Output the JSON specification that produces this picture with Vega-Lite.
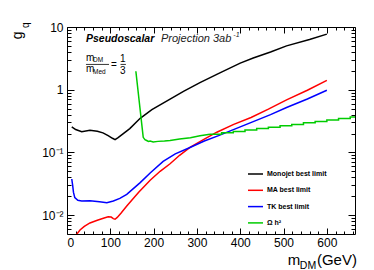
{
  "$schema": "https://vega.github.io/schema/vega-lite/v6.json",
  "width": 288,
  "height": 207,
  "autosize": {"type": "none"},
  "padding": {"left": 67, "top": 27, "right": 19, "bottom": 36},
  "background": "white",
  "datasets": {
    "curves": [
      {"series": "Monojet best limit", "m": 11, "g": 0.256},
      {"series": "Monojet best limit", "m": 20, "g": 0.232},
      {"series": "Monojet best limit", "m": 34, "g": 0.214},
      {"series": "Monojet best limit", "m": 53, "g": 0.226},
      {"series": "Monojet best limit", "m": 70, "g": 0.218},
      {"series": "Monojet best limit", "m": 83, "g": 0.205},
      {"series": "Monojet best limit", "m": 95, "g": 0.185},
      {"series": "Monojet best limit", "m": 105, "g": 0.168},
      {"series": "Monojet best limit", "m": 111, "g": 0.16},
      {"series": "Monojet best limit", "m": 118, "g": 0.172},
      {"series": "Monojet best limit", "m": 130, "g": 0.2},
      {"series": "Monojet best limit", "m": 145, "g": 0.24},
      {"series": "Monojet best limit", "m": 169, "g": 0.35},
      {"series": "Monojet best limit", "m": 196, "g": 0.48},
      {"series": "Monojet best limit", "m": 238, "g": 0.71},
      {"series": "Monojet best limit", "m": 270, "g": 0.95},
      {"series": "Monojet best limit", "m": 307, "g": 1.3},
      {"series": "Monojet best limit", "m": 353, "g": 1.86},
      {"series": "Monojet best limit", "m": 400, "g": 2.65},
      {"series": "Monojet best limit", "m": 430, "g": 3.2},
      {"series": "Monojet best limit", "m": 470, "g": 4.0},
      {"series": "Monojet best limit", "m": 507, "g": 5.0},
      {"series": "Monojet best limit", "m": 560, "g": 6.3},
      {"series": "Monojet best limit", "m": 600, "g": 7.7},

      {"series": "MA best limit", "m": 20, "g": 0.0047},
      {"series": "MA best limit", "m": 30, "g": 0.0058},
      {"series": "MA best limit", "m": 40, "g": 0.0066},
      {"series": "MA best limit", "m": 53, "g": 0.0075},
      {"series": "MA best limit", "m": 70, "g": 0.0083},
      {"series": "MA best limit", "m": 84, "g": 0.0089},
      {"series": "MA best limit", "m": 95, "g": 0.0094},
      {"series": "MA best limit", "m": 102, "g": 0.0093},
      {"series": "MA best limit", "m": 107, "g": 0.0088},
      {"series": "MA best limit", "m": 111, "g": 0.0086},
      {"series": "MA best limit", "m": 116, "g": 0.0092},
      {"series": "MA best limit", "m": 125, "g": 0.0108},
      {"series": "MA best limit", "m": 138, "g": 0.014},
      {"series": "MA best limit", "m": 165, "g": 0.023},
      {"series": "MA best limit", "m": 192, "g": 0.036},
      {"series": "MA best limit", "m": 215, "g": 0.05},
      {"series": "MA best limit", "m": 238, "g": 0.066},
      {"series": "MA best limit", "m": 260, "g": 0.09},
      {"series": "MA best limit", "m": 284, "g": 0.12},
      {"series": "MA best limit", "m": 315, "g": 0.16},
      {"series": "MA best limit", "m": 346, "g": 0.21},
      {"series": "MA best limit", "m": 385, "g": 0.28},
      {"series": "MA best limit", "m": 425, "g": 0.36},
      {"series": "MA best limit", "m": 465, "g": 0.49},
      {"series": "MA best limit", "m": 507, "g": 0.69},
      {"series": "MA best limit", "m": 555, "g": 0.98},
      {"series": "MA best limit", "m": 600, "g": 1.41},

      {"series": "TK best limit", "m": 11, "g": 0.0377},
      {"series": "TK best limit", "m": 13, "g": 0.03},
      {"series": "TK best limit", "m": 15, "g": 0.023},
      {"series": "TK best limit", "m": 18, "g": 0.019},
      {"series": "TK best limit", "m": 25, "g": 0.0172},
      {"series": "TK best limit", "m": 34, "g": 0.0168},
      {"series": "TK best limit", "m": 53, "g": 0.017},
      {"series": "TK best limit", "m": 75, "g": 0.0163},
      {"series": "TK best limit", "m": 92, "g": 0.0158},
      {"series": "TK best limit", "m": 107, "g": 0.0168},
      {"series": "TK best limit", "m": 122, "g": 0.0185},
      {"series": "TK best limit", "m": 138, "g": 0.0215},
      {"series": "TK best limit", "m": 169, "g": 0.033},
      {"series": "TK best limit", "m": 192, "g": 0.047},
      {"series": "TK best limit", "m": 222, "g": 0.072},
      {"series": "TK best limit", "m": 250, "g": 0.095},
      {"series": "TK best limit", "m": 284, "g": 0.12},
      {"series": "TK best limit", "m": 317, "g": 0.152},
      {"series": "TK best limit", "m": 350, "g": 0.185},
      {"series": "TK best limit", "m": 390, "g": 0.24},
      {"series": "TK best limit", "m": 430, "g": 0.31},
      {"series": "TK best limit", "m": 470, "g": 0.4},
      {"series": "TK best limit", "m": 507, "g": 0.52},
      {"series": "TK best limit", "m": 555, "g": 0.71},
      {"series": "TK best limit", "m": 600, "g": 0.98},

      {"series": "Ω h²", "m": 159, "g": 1.97},
      {"series": "Ω h²", "m": 176, "g": 0.174},
      {"series": "Ω h²", "m": 180, "g": 0.16},
      {"series": "Ω h²", "m": 184, "g": 0.155},
      {"series": "Ω h²", "m": 188, "g": 0.15},
      {"series": "Ω h²", "m": 192, "g": 0.152},
      {"series": "Ω h²", "m": 199, "g": 0.147},
      {"series": "Ω h²", "m": 210, "g": 0.15},
      {"series": "Ω h²", "m": 225, "g": 0.152},
      {"series": "Ω h²", "m": 238, "g": 0.155},
      {"series": "Ω h²", "m": 260, "g": 0.163},
      {"series": "Ω h²", "m": 285, "g": 0.172},
      {"series": "Ω h²", "m": 307, "g": 0.185},
      {"series": "Ω h²", "m": 330, "g": 0.195}
    ],
    "omegaSteps": [
      {"m": 330, "g": 0.195},
      {"m": 357, "g": 0.205},
      {"m": 384, "g": 0.215},
      {"m": 411, "g": 0.227},
      {"m": 438, "g": 0.24},
      {"m": 465, "g": 0.252},
      {"m": 492, "g": 0.266},
      {"m": 519, "g": 0.28},
      {"m": 546, "g": 0.296},
      {"m": 573, "g": 0.31},
      {"m": 600, "g": 0.33},
      {"m": 627, "g": 0.348},
      {"m": 654, "g": 0.366},
      {"m": 665, "g": 0.37}
    ]
  },
  "layer": [
    {
      "data": {"name": "curves"},
      "mark": {"type": "line", "strokeWidth": 1.5, "clip": true},
      "encoding": {
        "x": {"field": "m", "type": "quantitative",
          "scale": {"domain": [0, 665], "nice": false, "zero": false},
          "axis": {"orient": "bottom", "values": [0, 100, 200, 300, 400, 500, 600], "ticks": false, "domain": false, "grid": false, "title": null, "labelFontSize": 12, "labelPadding": 3, "labelColor": "black", "labelFont": "Liberation Sans"}},
        "y": {"field": "g", "type": "quantitative",
          "scale": {"type": "log", "domain": [0.005, 10], "nice": false},
          "axis": {"orient": "left", "values": [0.01, 0.1, 1, 10], "ticks": false, "domain": false, "grid": false, "title": null, "labelFontSize": 12, "labelPadding": 4, "labelColor": "black", "labelFont": "Liberation Sans",
            "labelExpr": "datum.value >= 5 ? '10' : datum.value >= 0.5 ? '1' : datum.value >= 0.05 ? '10⁻¹' : '10⁻²'"}},
        "color": {"field": "series", "type": "nominal",
          "scale": {"domain": ["Monojet best limit", "MA best limit", "TK best limit", "Ω h²"], "range": ["#000000", "#ff0000", "#0000ff", "#00cc00"]},
          "legend": {"orient": "none", "legendX": 180, "legendY": 138.5, "title": null, "symbolType": "stroke", "symbolSize": 225, "symbolStrokeWidth": 1.5, "labelFontSize": 7, "labelFontWeight": "bold", "labelFont": "Liberation Sans", "labelColor": "black", "labelOffset": 3, "rowPadding": 4.3}}
      }
    },
    {
      "data": {"name": "omegaSteps"},
      "mark": {"type": "line", "strokeWidth": 1.5, "interpolate": "step-after", "color": "#00cc00", "clip": true},
      "encoding": {
        "x": {"field": "m", "type": "quantitative", "scale": {"domain": [0, 665], "nice": false, "zero": false},
          "axis": {"orient": "bottom", "values": [20, 40, 60, 80, 120, 140, 160, 180, 220, 240, 260, 280, 320, 340, 360, 380, 420, 440, 460, 480, 520, 540, 560, 580, 620, 640, 660], "labels": false, "domain": false, "grid": false, "title": null, "tickSize": -3, "tickColor": "black"}},
        "y": {"field": "g", "type": "quantitative", "scale": {"type": "log", "domain": [0.005, 10], "nice": false},
          "axis": {"orient": "left", "values": [0.006, 0.007, 0.008, 0.009, 0.02, 0.03, 0.04, 0.05, 0.06, 0.07, 0.08, 0.09, 0.2, 0.3, 0.4, 0.5, 0.6, 0.7, 0.8, 0.9, 2, 3, 4, 5, 6, 7, 8, 9], "labels": false, "domain": false, "grid": false, "title": null, "tickSize": -4, "tickColor": "black"}}
      }
    },
    {
      "data": {"name": "omegaSteps"},
      "mark": {"type": "line", "strokeOpacity": 0},
      "encoding": {
        "x": {"field": "m", "type": "quantitative", "scale": {"domain": [0, 665], "nice": false, "zero": false},
          "axis": {"orient": "bottom", "values": [0, 100, 200, 300, 400, 500, 600], "labels": false, "domain": false, "grid": false, "title": null, "tickSize": -6, "tickColor": "black"}},
        "y": {"field": "g", "type": "quantitative", "scale": {"type": "log", "domain": [0.005, 10], "nice": false},
          "axis": {"orient": "left", "values": [0.01, 0.1, 1, 10], "labels": false, "domain": false, "grid": false, "title": null, "tickSize": -7, "tickColor": "black"}}
      }
    },
    {
      "data": {"name": "omegaSteps"},
      "mark": {"type": "line", "strokeOpacity": 0},
      "encoding": {
        "x": {"field": "m", "type": "quantitative", "scale": {"domain": [0, 665], "nice": false, "zero": false},
          "axis": {"orient": "top", "values": [0, 100, 200, 300, 400, 500, 600], "labels": false, "domain": false, "grid": false, "title": null, "tickSize": -6, "tickColor": "black"}},
        "y": {"field": "g", "type": "quantitative", "scale": {"type": "log", "domain": [0.005, 10], "nice": false},
          "axis": {"orient": "right", "values": [0.01, 0.1, 1, 10], "labels": false, "domain": false, "grid": false, "title": null, "tickSize": -7, "tickColor": "black"}}
      }
    },
    {
      "data": {"name": "omegaSteps"},
      "mark": {"type": "line", "strokeOpacity": 0},
      "encoding": {
        "x": {"field": "m", "type": "quantitative", "scale": {"domain": [0, 665], "nice": false, "zero": false},
          "axis": {"orient": "top", "values": [20, 40, 60, 80, 120, 140, 160, 180, 220, 240, 260, 280, 320, 340, 360, 380, 420, 440, 460, 480, 520, 540, 560, 580, 620, 640, 660], "labels": false, "domain": false, "grid": false, "title": null, "tickSize": -3, "tickColor": "black"}},
        "y": {"field": "g", "type": "quantitative", "scale": {"type": "log", "domain": [0.005, 10], "nice": false},
          "axis": {"orient": "right", "values": [0.006, 0.007, 0.008, 0.009, 0.02, 0.03, 0.04, 0.05, 0.06, 0.07, 0.08, 0.09, 0.2, 0.3, 0.4, 0.5, 0.6, 0.7, 0.8, 0.9, 2, 3, 4, 5, 6, 7, 8, 9], "labels": false, "domain": false, "grid": false, "title": null, "tickSize": -4, "tickColor": "black"}}
      }
    },
    {
      "data": {"values": [{"x": 43.8, "y": 5.73, "t": "Pseudoscalar"}]},
      "mark": {"type": "text", "align": "left", "baseline": "alphabetic", "fontSize": 10.5, "fontWeight": "bold", "fontStyle": "italic", "font": "Liberation Sans", "color": "black"},
      "encoding": {"x": {"field": "x", "type": "quantitative", "axis": null}, "y": {"field": "y", "type": "quantitative", "axis": null}, "text": {"field": "t"}}
    },
    {
      "data": {"values": [{"x": 217, "y": 5.73, "t": "Projection 3ab"}]},
      "mark": {"type": "text", "align": "left", "baseline": "alphabetic", "fontSize": 11, "fontStyle": "italic", "font": "Liberation Sans", "color": "#222222"},
      "encoding": {"x": {"field": "x", "type": "quantitative", "axis": null}, "y": {"field": "y", "type": "quantitative", "axis": null}, "text": {"field": "t"}}
    },
    {
      "data": {"values": [{"x": 384, "y": 6.9, "t": "-1"}]},
      "mark": {"type": "text", "align": "left", "baseline": "alphabetic", "fontSize": 7, "fontStyle": "italic", "font": "Liberation Sans", "color": "#222222"},
      "encoding": {"x": {"field": "x", "type": "quantitative", "axis": null}, "y": {"field": "y", "type": "quantitative", "axis": null}, "text": {"field": "t"}}
    },
    {
      "data": {"values": [{"x": 43.8, "y": 2.86, "t": "m"}, {"x": 43.8, "y": 1.95, "t": "m"}, {"x": 101.5, "y": 2.26, "t": "="}]},
      "mark": {"type": "text", "align": "left", "baseline": "alphabetic", "fontSize": 10, "font": "Liberation Sans", "color": "black"},
      "encoding": {"x": {"field": "x", "type": "quantitative", "axis": null}, "y": {"field": "y", "type": "quantitative", "axis": null}, "text": {"field": "t"}}
    },
    {
      "data": {"values": [{"x": 129, "y": 2.72, "t": "1"}, {"x": 129, "y": 1.75, "t": "3"}]},
      "mark": {"type": "text", "align": "center", "baseline": "alphabetic", "fontSize": 10, "font": "Liberation Sans", "color": "black"},
      "encoding": {"x": {"field": "x", "type": "quantitative", "axis": null}, "y": {"field": "y", "type": "quantitative", "axis": null}, "text": {"field": "t"}}
    },
    {
      "data": {"values": [{"x": 60, "y": 2.72, "t": "DM"}, {"x": 60, "y": 1.75, "t": "Med"}]},
      "mark": {"type": "text", "align": "left", "baseline": "alphabetic", "fontSize": 6.5, "font": "Liberation Sans", "color": "black"},
      "encoding": {"x": {"field": "x", "type": "quantitative", "axis": null}, "y": {"field": "y", "type": "quantitative", "axis": null}, "text": {"field": "t"}}
    },
    {
      "data": {"values": [{"x": 43.8, "x2": 97, "y": 2.53}, {"x": 123.5, "x2": 136, "y": 2.53}]},
      "mark": {"type": "rule", "strokeWidth": 0.8, "color": "black"},
      "encoding": {"x": {"field": "x", "type": "quantitative", "axis": null}, "x2": {"field": "x2"}, "y": {"field": "y", "type": "quantitative", "axis": null}}
    },
    {
      "data": {"values": [{"x": 510, "y": 0.00162, "t": "m"}, {"x": 577, "y": 0.00162, "t": "(GeV)"}]},
      "mark": {"type": "text", "align": "left", "baseline": "alphabetic", "fontSize": 15, "font": "Liberation Sans", "color": "black"},
      "encoding": {"x": {"field": "x", "type": "quantitative", "axis": null}, "y": {"field": "y", "type": "quantitative", "axis": null}, "text": {"field": "t"}}
    },
    {
      "data": {"values": [{"x": 537.7, "y": 0.0014, "t": "DM"}]},
      "mark": {"type": "text", "align": "left", "baseline": "alphabetic", "fontSize": 10.5, "font": "Liberation Sans", "color": "black"},
      "encoding": {"x": {"field": "x", "type": "quantitative", "axis": null}, "y": {"field": "y", "type": "quantitative", "axis": null}, "text": {"field": "t"}}
    },
    {
      "data": {"values": [{"x": -103.8, "y": 6.4, "t": "g"}]},
      "mark": {"type": "text", "align": "left", "baseline": "alphabetic", "angle": 270, "fontSize": 14, "font": "Liberation Sans", "color": "black"},
      "encoding": {"x": {"field": "x", "type": "quantitative", "axis": null}, "y": {"field": "y", "type": "quantitative", "axis": null}, "text": {"field": "t"}}
    },
    {
      "data": {"values": [{"x": -88.8, "y": 9.6, "t": "q"}]},
      "mark": {"type": "text", "align": "left", "baseline": "alphabetic", "angle": 270, "fontSize": 10, "font": "Liberation Sans", "color": "black"},
      "encoding": {"x": {"field": "x", "type": "quantitative", "axis": null}, "y": {"field": "y", "type": "quantitative", "axis": null}, "text": {"field": "t"}}
    }
  ],
  "resolve": {"axis": {"x": "independent", "y": "independent"}},
  "config": {
    "font": "Liberation Sans",
    "view": {"stroke": "black", "strokeWidth": 1}
  }
}
